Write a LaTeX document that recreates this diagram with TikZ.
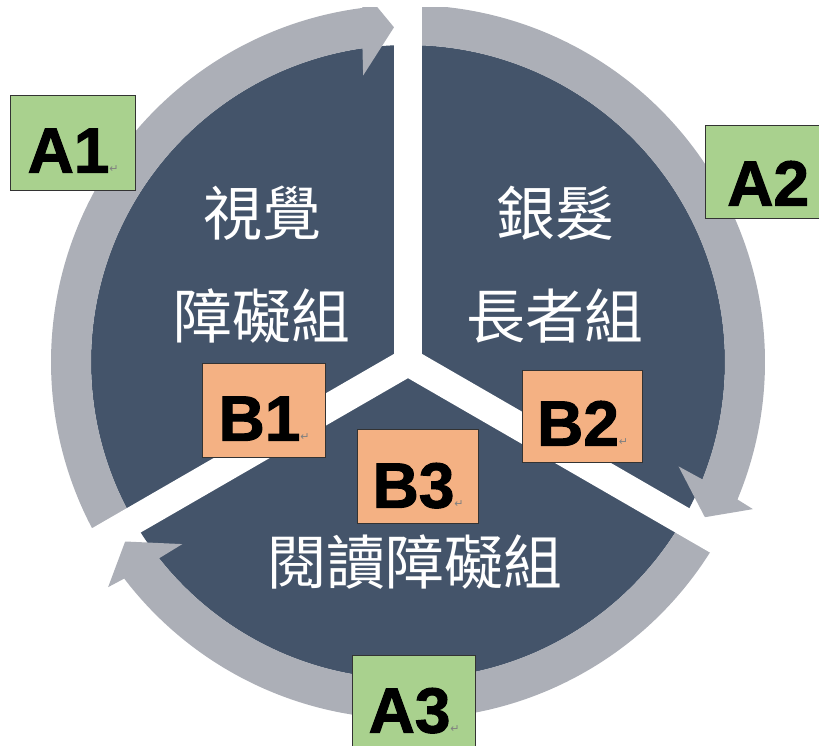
\documentclass[tikz,border=0pt]{standalone}
\usepackage{fontspec}
\newfontfamily\cjk{Noto Sans CJK TC}
\newfontfamily\lab{Liberation Sans}[BoldFeatures={FakeBold=1.6}]
\newfontfamily\dv{DejaVu Sans}
\definecolor{navy}{HTML}{44546A}
\definecolor{ringgray}{RGB}{172,175,183}
\definecolor{boxgreen}{HTML}{A9D18E}
\definecolor{boxorange}{HTML}{F4B183}
\newcommand\retmark{{\dv\mdseries\fontsize{11}{11}\selectfont\color{gray}↵}}
\begin{document}
\begin{tikzpicture}[x=1pt,y=1pt,
  tag/.style={draw=black!80, line width=1.3pt, inner sep=0pt, anchor=north west,
    font=\lab\bfseries\fontsize{64}{64}\selectfont, text=black},
  zh/.style={text=white, align=center, font=\cjk\fontsize{59}{103}\selectfont}]
\useasboundingbox (0,0) rectangle (819,745);
\coordinate (O) at (408,383);
\fill[navy] (O) circle[radius=317];
\begin{scope}
\clip (0,0) rectangle (819,737);
\begin{scope}[shift={(O)}]
\foreach \as/\tip in {210/92.4, 90/-27.6, -30/-147.6}{
  \pgfmathsetmacro\bo{\tip+4.95}
  \pgfmathsetmacro\bi{\tip+5.86}
  \pgfmathsetmacro\ob{\tip+4.5}
  \pgfmathsetmacro\ib{\tip+6.5}
  \fill[ringgray] (\as:357) arc[start angle=\as, end angle=\bo, radius=357]
    -- (\ob:375) -- (\tip:335) -- (\ib:290) -- (\bi:317)
    arc[start angle=\bi, end angle=\as, radius=317] -- cycle;
}
\end{scope}
\end{scope}
\foreach \a in {90,210,330} \draw[white, line width=28pt] (O) -- ++(\a:400);
\node[zh] (t1) at (262,480) {視覺\\障礙組};
\node[zh] (t2) at (555,480) {銀髮\\長者組};
\node[zh] (t3) at (415,183) {閱讀障礙組};
\node[tag, fill=boxgreen, minimum width=125pt, text height=77pt, text depth=18pt] (A1) at (10,650) {A1\retmark};
\node[tag, fill=boxgreen, minimum width=125pt, text height=80pt, text depth=13pt] (A2) at (705,620) {A2};
\node[tag, fill=boxgreen, minimum width=123pt, text height=77pt, text depth=38pt] (A3) at (352,90) {A3\retmark};
\node[tag, fill=boxorange, minimum width=123pt, text height=77pt, text depth=17pt] (B1) at (202,382) {B1\retmark};
\node[tag, fill=boxorange, minimum width=120pt, text height=75pt, text depth=17pt] (B2) at (522,375) {B2\retmark};
\node[tag, fill=boxorange, minimum width=121pt, text height=78pt, text depth=16pt] (B3) at (357,316) {B3\retmark};
\end{tikzpicture}
\end{document}
